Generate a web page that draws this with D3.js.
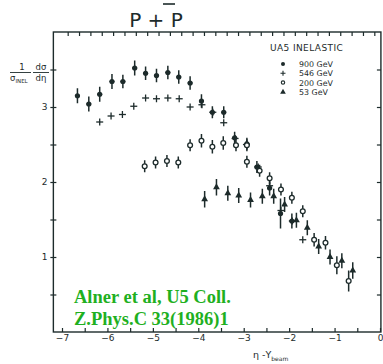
<!DOCTYPE html>
<html><head><meta charset="utf-8">
<script src="https://cdn.jsdelivr.net/npm/d3@7"></script>
<style>html,body{margin:0;padding:0;background:#fff;}svg{display:block;}</style>
</head><body>
<svg id="chart" width="383" height="364"></svg>
<script>
// UA5 pseudorapidity distributions, eta - Y_beam
const eta900 = [-6.66,-6.41,-6.17,-5.90,-5.66,-5.40,-5.16,-4.92,-4.67,-4.43,-4.18,-3.93,-3.69,-3.44,-3.20,-2.93,-2.71,-2.43,-2.19,-1.94];
const val900 = [3.15,3.04,3.17,3.34,3.34,3.52,3.45,3.42,3.46,3.40,3.32,3.08,2.93,2.93,2.59,2.51,2.20,1.92,1.58,1.48];
const err900 = [0.10,0.10,0.10,0.10,0.09,0.10,0.09,0.09,0.09,0.09,0.09,0.09,0.08,0.08,0.08,0.08,0.08,0.10,0.20,0.10];

const eta546 = [-6.17,-5.92,-5.67,-5.42,-5.16,-4.92,-4.67,-4.42,-4.18,-3.92,-3.68,-3.44,-3.19,-2.94,-2.68,-2.43,-2.18,-1.93,-1.70];
const val546 = [2.80,2.88,2.90,3.01,3.12,3.11,3.12,3.11,3.00,3.03,2.93,2.79,2.58,2.50,2.20,1.95,1.62,1.48,1.23];

const eta200 = [-5.18,-4.94,-4.69,-4.44,-4.18,-3.93,-3.69,-3.45,-3.17,-2.93,-2.93,-2.65,-2.43,-2.18,-1.94,-1.70,-1.45,-1.20,-0.95,-0.69];
const val200 = [2.21,2.26,2.28,2.26,2.49,2.55,2.47,2.52,2.49,2.49,2.27,2.15,2.05,1.90,1.79,1.61,1.23,1.19,0.89,0.68];
const err200 = [0.08,0.08,0.08,0.08,0.08,0.09,0.09,0.09,0.08,0.08,0.08,0.08,0.08,0.08,0.08,0.08,0.09,0.09,0.12,0.14];

const eta53 = [-3.86,-3.60,-3.35,-3.11,-2.85,-2.59,-2.34,-2.10,-1.84,-1.60,-1.35,-1.10,-0.84,-0.60];
const val53 = [1.77,1.93,1.85,1.82,1.76,1.81,1.81,1.70,1.49,1.39,1.14,1.00,0.95,0.82];
const err53 = [0.11,0.11,0.10,0.10,0.10,0.10,0.10,0.10,0.10,0.10,0.10,0.10,0.10,0.11];

const xTicks = [-7,-6,-5,-4,-3,-2,-1,0];
const yTicks = [1,2,3];
const legendLabels = ["900 GeV","546 GeV","200 GeV","53 GeV"];

const ink = "#1d2b2b";
const svg = d3.select("#chart");
const x = d3.scaleLinear().domain([-7,0]).range([62,380]);
const y = d3.scaleLinear().domain([0,4]).range([332,32]);

// frame
const x0 = x(-7.19), x1 = x(0.02);
svg.append("rect").attr("x",x0).attr("y",y(4)).attr("width",x1-x0).attr("height",y(0)-y(4))
  .attr("fill","none").attr("stroke",ink).attr("stroke-width",1.4);

// axes
const axB = d3.axisBottom(x).tickValues(d3.range(-7,0.01,0.5)).tickSize(4)
  .tickFormat(d => xTicks.includes(d) ? d3.format("d")(d).replace("-","\u2212") : "");
const gB = svg.append("g").attr("transform",`translate(0,${y(0)})`).call(axB);
gB.selectAll(".tick line").attr("y1",-4).attr("y2",0);
const axT = d3.axisTop(x).tickValues(d3.range(-6.875,0,0.25)).tickSize(4).tickFormat("");
const gT = svg.append("g").attr("transform",`translate(0,${y(4)})`).call(axT);
gT.selectAll(".tick line").attr("y1",0).attr("y2",4);
const axL = d3.axisLeft(y).tickValues(d3.range(0.5,4,0.5)).tickSize(3)
  .tickFormat(d => yTicks.includes(d) ? d : "");
const gL = svg.append("g").attr("transform",`translate(${x0},0)`).call(axL);
gL.selectAll(".tick line").attr("x1",-3).attr("x2",3);
const axR = d3.axisRight(y).tickValues(d3.range(0.5,4,0.5)).tickSize(0).tickFormat("");
const gR = svg.append("g").attr("transform",`translate(${x1},0)`).call(axR);
gR.selectAll(".tick line").attr("x1",-4).attr("x2",0);
[gB,gT,gL,gR].forEach(g => {
  g.select(".domain").remove();
  g.selectAll(".tick line").attr("stroke",ink).attr("stroke-width",1.2);
  g.selectAll("text").attr("fill",ink).attr("font-family","DejaVu Sans, sans-serif").attr("font-size",9);
});
gB.selectAll("text").attr("dy","0.2em");

// markers
const plot = svg.append("g");
function errbars(etas, vals, errs){
  plot.append("g").selectAll("line").data(etas).join("line")
    .attr("x1",d=>x(d)).attr("x2",d=>x(d))
    .attr("y1",(d,i)=>y(vals[i]+errs[i])).attr("y2",(d,i)=>y(vals[i]-errs[i]))
    .attr("stroke",ink).attr("stroke-width",1.5);
}
errbars(eta900,val900,err900);
plot.append("g").selectAll("circle").data(eta900).join("circle")
  .attr("cx",d=>x(d)).attr("cy",(d,i)=>y(val900[i])).attr("r",2.6).attr("fill",ink);
plot.append("g").selectAll("line").data(eta900).join("line")
  .attr("x1",d=>x(d)-2.5).attr("x2",d=>x(d)+2.5)
  .attr("y1",(d,i)=>y(val900[i])).attr("y2",(d,i)=>y(val900[i])).attr("stroke",ink).attr("stroke-width",1.2);

const g546 = plot.append("g");
g546.selectAll(".h").data(eta546).join("line").attr("class","h")
  .attr("x1",d=>x(d)-3.5).attr("x2",d=>x(d)+3.5)
  .attr("y1",(d,i)=>y(val546[i])).attr("y2",(d,i)=>y(val546[i])).attr("stroke",ink).attr("stroke-width",1.3);
g546.selectAll(".v").data(eta546).join("line").attr("class","v")
  .attr("x1",d=>x(d)).attr("x2",d=>x(d))
  .attr("y1",(d,i)=>y(val546[i])-3.5).attr("y2",(d,i)=>y(val546[i])+3.5).attr("stroke",ink).attr("stroke-width",1.3);

errbars(eta200,val200,err200);
plot.append("g").selectAll("circle").data(eta200).join("circle")
  .attr("cx",d=>x(d)).attr("cy",(d,i)=>y(val200[i])).attr("r",2.4)
  .attr("fill","#fff").attr("stroke",ink).attr("stroke-width",1.3);

errbars(eta53,val53,err53);
const tri = d3.symbol().type(d3.symbolTriangle).size(20);
plot.append("g").selectAll("path").data(eta53).join("path")
  .attr("d",tri).attr("transform",(d,i)=>`translate(${x(d)},${y(val53[i])})`).attr("fill",ink);

// legend
const lg = svg.append("g").attr("font-family","DejaVu Sans, sans-serif").attr("fill",ink);
lg.append("text").attr("x",270).attr("y",50.5).attr("font-size",9).attr("letter-spacing",0.4).text("UA5  INELASTIC");
legendLabels.forEach((t,i)=>{
  const ly = 64 + i*9.3;
  lg.append("text").attr("x",299).attr("y",ly+3).attr("font-size",7.9).text(t);
});
const lx = 283;
lg.append("circle").attr("cx",lx).attr("cy",64).attr("r",2).attr("fill",ink);
lg.append("path").attr("d",`M${lx-2.5},73.3h5M${lx},70.8v5`).attr("stroke",ink).attr("stroke-width",1.1);
lg.append("circle").attr("cx",lx).attr("cy",82.6).attr("r",1.7).attr("fill","none").attr("stroke",ink).attr("stroke-width",1.1);
lg.append("path").attr("d",d3.symbol().type(d3.symbolTriangle).size(14)()).attr("transform",`translate(${lx},92)`).attr("fill",ink);

// title
const tt = svg.append("g").attr("fill",ink).attr("font-family","DejaVu Sans, sans-serif");
tt.append("text").attr("x",156).attr("y",27).attr("text-anchor","middle").attr("font-size",20).text("P + P");
svg.append("line").attr("x1",163).attr("x2",175).attr("y1",4).attr("y2",4).attr("stroke",ink).attr("stroke-width",1.6);

// y label
const yl = svg.append("g").attr("fill",ink).attr("font-family","DejaVu Sans, sans-serif").attr("font-size",8.5);
yl.append("text").attr("x",22).attr("y",70).attr("text-anchor","middle").text("1");
yl.append("line").attr("x1",10).attr("x2",31).attr("y1",72.5).attr("y2",72.5).attr("stroke",ink).attr("stroke-width",0.9);
yl.append("text").attr("x",10).attr("y",81).text("σ").append("tspan").attr("font-size",5.5).attr("dy",1.5).text("INEL");
yl.append("text").attr("x",41).attr("y",70).attr("text-anchor","middle").text("dσ");
yl.append("line").attr("x1",33).attr("x2",49).attr("y1",72.5).attr("y2",72.5).attr("stroke",ink).attr("stroke-width",0.9);
yl.append("text").attr("x",41).attr("y",81).attr("text-anchor","middle").text("dη");

// x label
const xl = svg.append("text").attr("x",253).attr("y",358).attr("fill",ink).attr("font-family","DejaVu Sans, sans-serif").attr("font-size",9.5);
xl.append("tspan").text("η -Y");
xl.append("tspan").attr("font-size",6).attr("dy",2.5).text("beam");

// citation
const cg = svg.append("g").attr("fill","#1fb01f").attr("font-family","Liberation Serif, serif").attr("font-weight","bold").attr("font-size",18.5);
cg.append("text").attr("x",74).attr("y",303).text("Alner et al, U5 Coll.");
cg.append("text").attr("x",74).attr("y",325).text("Z.Phys.C 33(1986)1");
</script>
</body></html>
